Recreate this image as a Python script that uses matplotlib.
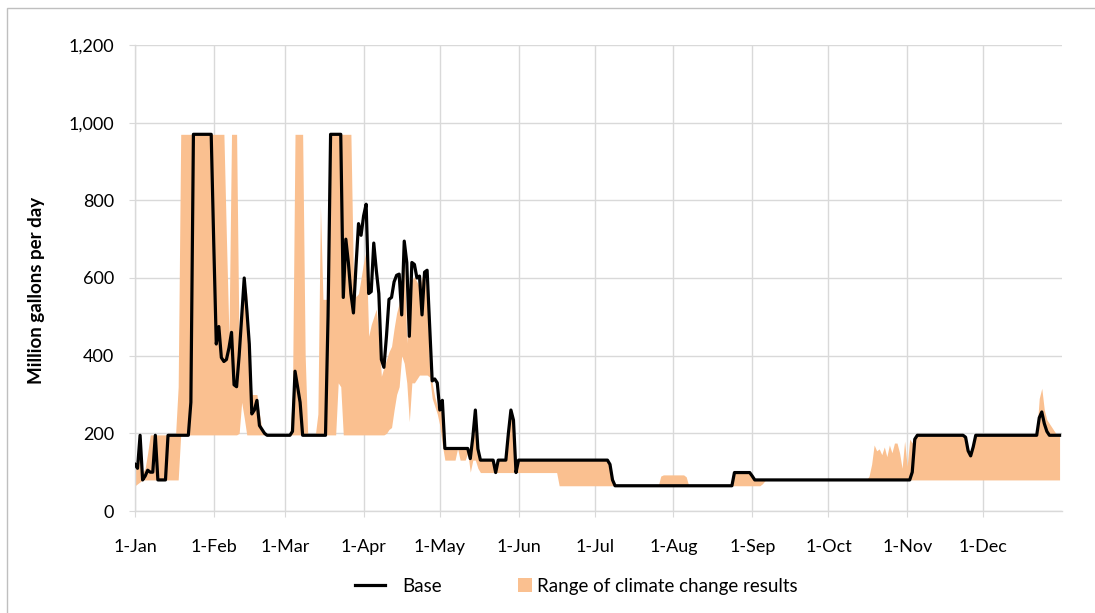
import matplotlib
matplotlib.use("Agg")
import matplotlib.pyplot as plt
import matplotlib.dates as mdates
import pandas as pd
from matplotlib.lines import Line2D
from matplotlib.patches import Patch, Rectangle
from matplotlib.legend_handler import HandlerBase

plt.rcParams['font.family'] = ['Lato', 'DejaVu Sans']

# daily values, 1-Jan .. 31-Dec (million gallons per day)
base = ([120, 110, 195, 80, 90, 105, 100, 100, 195, 80, 80, 80, 80, 195]
        + [195] * 8
        + [280] + [970] * 8
        + [690, 430, 475, 395, 385, 390, 420, 460, 325, 320, 400, 500,
           600, 520, 430, 250, 260, 285, 220, 210, 200, 195]
        + [195] * 9
        + [205, 360, 320, 280, 195]
        + [195] * 9
        + [500] + [970] * 5
        + [550, 700, 640, 560, 510, 630, 740, 710, 760, 790, 560, 565,
           690, 620, 560, 390, 370, 450, 545, 550, 590, 607, 610, 505,
           695, 640, 450, 640, 635, 600, 605, 505, 615, 620, 480, 335,
           340, 330, 260, 285]
        + [161] * 10
        + [135, 190, 260, 160, 131]
        + [131] * 5
        + [99, 131, 131, 131, 131, 200, 260, 234, 99, 131]
        + [131] * 35
        + [120, 80, 65]
        + [65] * 46
        + [99] * 7
        + [90]
        + [80] * 62
        + [100, 185]
        + [195] * 19
        + [190, 155, 142, 165, 195]
        + [195] * 23
        + [195, 240, 255, 225, 205, 195, 195, 195, 195, 195])

range_low = ([65, 70, 75] + [80] * 15
             + [196] * 23
             + [200, 280, 240]
             + [196] * 36
             + [330, 320]
             + [196] * 17
             + [200, 210, 215, 260, 300, 320, 400, 380, 330, 230, 330, 330,
                340, 350, 350, 350, 350, 345, 290, 270, 250, 220, 170]
             + [131, 131, 131, 131, 131, 161, 131, 131, 131, 150]
             + [100, 131, 131, 110]
             + [99] * 31
             + [65] * 22
             + [65] * 47
             + [65] * 11
             + [70, 78]
             + [80] * 39
             + [80] * 77)

range_high = ([120, 110, 195, 100, 110, 150] + [196] * 10 + [200, 320]
              + [970] * 18
              + [700, 450, 970, 970, 970]
              + [400, 500, 600, 560, 430, 300, 300, 300, 250, 210, 200]
              + [196] * 10
              + [300, 970, 970, 970, 970, 400]
              + [196] * 4
              + [250, 785, 545, 545, 545]
              + [970] * 9
              + [600, 552, 560, 600, 640, 672, 450, 480, 500, 520, 448, 347,
                 370, 390, 410, 424, 470, 510, 535, 586, 663, 432, 586, 595,
                 603, 590, 577, 603, 600, 560, 363, 330, 294, 270, 265, 250]
              + [161] * 10
              + [135, 190, 260, 160, 131]
              + [131] * 5
              + [99, 131, 131, 131, 131, 200, 260, 234, 99, 131]
              + [131] * 35
              + [120, 80]
              + [65] * 17
              + [65, 90, 93, 93, 93, 93, 93, 93, 93, 93, 93, 88, 65]
              + [65] * 17
              + [99] * 7
              + [90]
              + [80] * 44
              + [80, 90, 120, 170, 155, 160, 145, 165, 140, 170, 150, 175,
                 175, 150, 110, 180, 115, 185, 175, 193]
              + [195] * 19
              + [190, 155, 142, 165, 195]
              + [195] * 23
              + [200, 290, 316, 260, 235, 225, 215, 205, 195, 195])

dates = pd.date_range("2001-01-01", periods=365, freq="D")
y_ticks = [0, 200, 400, 600, 800, 1000, 1200]

band_color = '#FAC090'
grid_color = '#D9D9D9'


class SquareHandler(HandlerBase):
    # small square at the right end of the handle box, next to the text
    def create_artists(self, legend, orig_handle, xdescent, ydescent,
                       width, height, fontsize, trans):
        s = fontsize * 0.75
        y0 = -ydescent + height / 2 - s / 2
        p = Rectangle((width - s - xdescent, y0), s, s,
                      facecolor=orig_handle.get_facecolor(), edgecolor='none',
                      transform=trans)
        return [p]


class ShortLineHandler(HandlerBase):
    # line occupying the left part of the handle box
    def create_artists(self, legend, orig_handle, xdescent, ydescent,
                       width, height, fontsize, trans):
        y = -ydescent + height / 2
        l = Line2D([-xdescent, -xdescent + width * 0.7], [y, y],
                   color=orig_handle.get_color(),
                   linewidth=orig_handle.get_linewidth(), transform=trans)
        return [l]


fig = plt.figure(figsize=(10.95, 6.13), dpi=100)
ax = fig.add_axes([135 / 1095, 102 / 613, 927 / 1095, 466 / 613])

ax.fill_between(dates, range_low, range_high, color=band_color, linewidth=0,
                zorder=2)
ax.plot(dates, base, color='black', linewidth=2.3, zorder=3)

ax.set_xlim(pd.Timestamp("2001-01-01"), pd.Timestamp("2001-12-31 23:00"))
ax.set_ylim(0, 1200)
ax.set_yticks(y_ticks)
ax.yaxis.set_major_formatter(matplotlib.ticker.FuncFormatter(lambda v, p: f"{int(v):,}"))
ax.xaxis.set_major_locator(mdates.MonthLocator())
ax.xaxis.set_major_formatter(mdates.DateFormatter("1-%b"))

ax.grid(True, color=grid_color, linewidth=1.0, zorder=0)
ax.set_axisbelow(True)
for side in ['top', 'right']:
    ax.spines[side].set_visible(False)
for side in ['left', 'bottom']:
    ax.spines[side].set_color(grid_color)
    ax.spines[side].set_linewidth(1.0)

ax.tick_params(axis='x', length=4, color=grid_color, pad=16, labelsize=13,
               labelcolor='black')
ax.tick_params(axis='y', length=4, color=grid_color, pad=11, labelsize=13,
               labelcolor='black')

ax.set_ylabel("Million gallons per day", fontsize=13.5, fontweight='bold')
ax.yaxis.set_label_coords(-0.097, 0.474)

handles = [Line2D([], [], color='black', linewidth=2.3),
           Patch(facecolor=band_color)]
fig.legend(handles, ["Base", "Range of climate change results"],
           loc='center', bbox_to_anchor=(0.526, 0.044), ncol=2, frameon=False,
           fontsize=13.5, handlelength=2.3, handletextpad=0.25,
           columnspacing=2.5,
           handler_map={Line2D: ShortLineHandler(), Patch: SquareHandler()})

# outer chart frame (top and left edges visible)
fig.add_artist(Rectangle((7 / 1095, -0.05), 1.2, 1 - 8 / 613 + 0.05,
                         transform=fig.transFigure, fill=False,
                         edgecolor='#BFBFBF', linewidth=1.0))

fig.savefig("out.png", dpi=100)
